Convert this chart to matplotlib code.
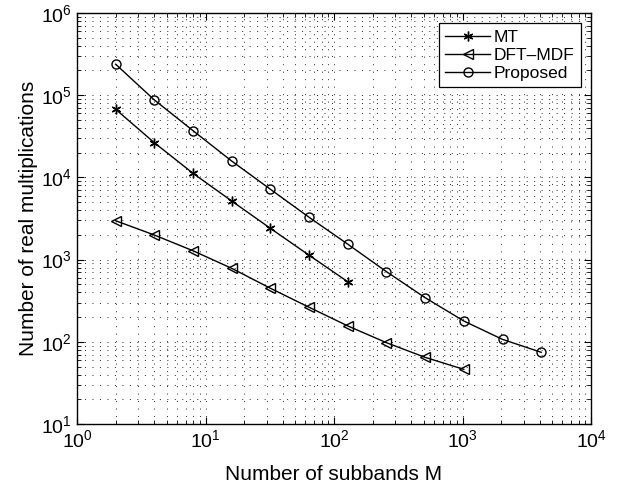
import numpy as np
import matplotlib.pyplot as plt

plt.rcParams['font.family'] = ['Liberation Sans', 'DejaVu Sans']

# number of subbands
m_mt = [2, 4, 8, 16, 32, 64, 128]
m_dft = [2, 4, 8, 16, 32, 64, 128, 256, 512, 1024]
m_prop = [2, 4, 8, 16, 32, 64, 128, 256, 512, 1024, 2048, 4096]

# real multiplications
mult_mt = [67300, 26400, 11200, 5160, 2400, 1130, 538]
mult_dft = [2970, 1990, 1280, 783, 448, 263, 156, 97.5, 64.7, 46.2]
mult_prop = [238000, 87500, 37000, 15800, 7170, 3270, 1540, 713, 344, 179, 107, 74.5]

fig = plt.figure(figsize=(6.27, 4.87), dpi=100)
ax = fig.add_axes([77 / 627, 1 - 424 / 487, 514 / 627, 411 / 487])

ax.loglog(m_mt, mult_mt, 'k-', marker=(6, 2, 0), markersize=7, lw=1, label='MT')
ax.loglog(m_dft, mult_dft, 'k-', marker='<', markersize=7, mfc='none', lw=1, label='DFT\u2013MDF')
ax.loglog(m_prop, mult_prop, 'k-', marker='o', markersize=6.5, mfc='none', lw=1, label='Proposed')

ax.set_xlim(1, 1e4)
ax.set_ylim(10, 1e6)
ax.grid(True, which='both', linestyle=(0, (1, 6.7)), color='0.15', linewidth=0.7)
ax.tick_params(which='both', direction='in', top=True, right=True, labelsize=14)
ax.tick_params(which='major', length=5)
ax.tick_params(which='minor', length=3)
for s in ax.spines.values():
    s.set_linewidth(1)

ax.set_xlabel('Number of subbands M', fontsize=15, labelpad=10)
ax.set_ylabel('Number of real multiplications', fontsize=15, labelpad=2)

leg = ax.legend(loc='upper right', fontsize=12.5, fancybox=False, framealpha=1,
                edgecolor='k', borderaxespad=0.6, handlelength=2.6,
                borderpad=0.35, labelspacing=0.18, handletextpad=0.2)
leg.get_frame().set_linewidth(0.9)

fig.savefig('out.png', dpi=100)
